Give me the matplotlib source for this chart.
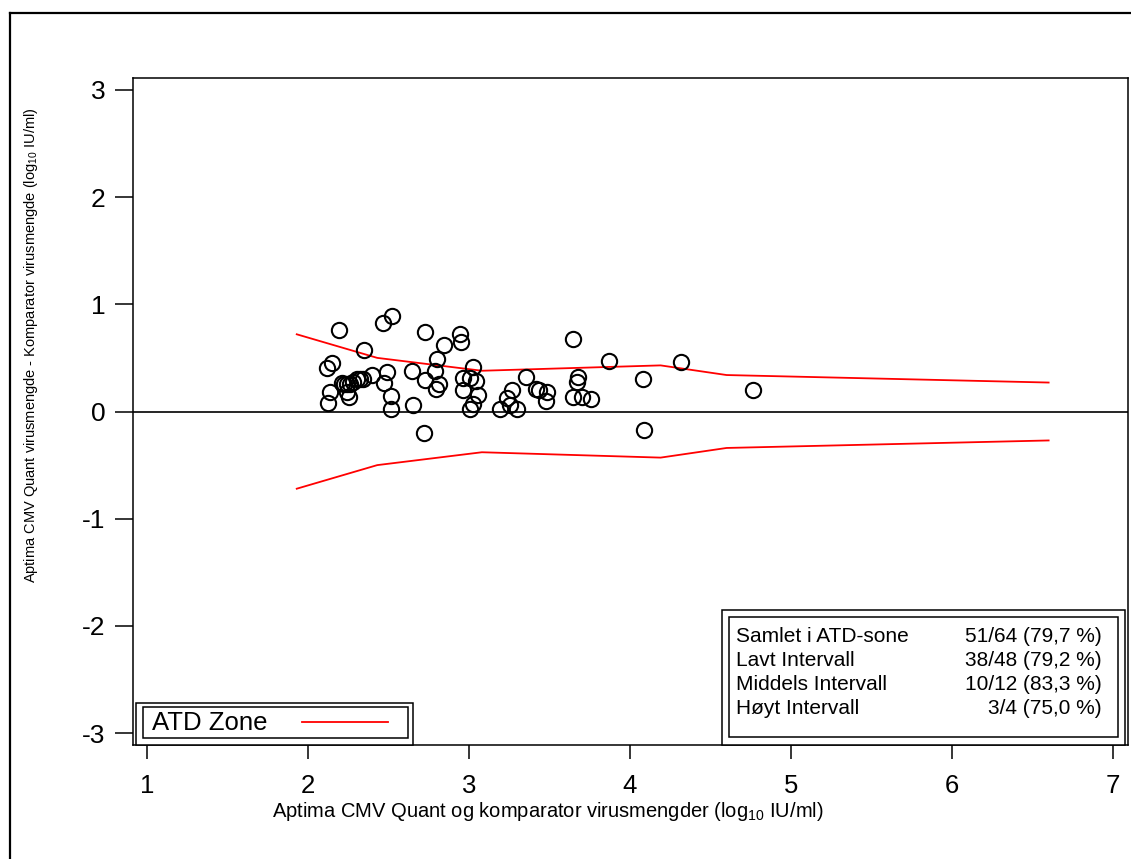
import matplotlib
matplotlib.use('Agg')
import matplotlib.pyplot as plt
from matplotlib.patches import Rectangle
from matplotlib.lines import Line2D
from matplotlib import font_manager

plt.rcParams['font.family'] = ['Liberation Sans', 'DejaVu Sans']
plt.rcParams['mathtext.fontset'] = 'custom'
plt.rcParams['mathtext.rm'] = 'Liberation Sans'
plt.rcParams['mathtext.it'] = 'Liberation Sans:italic'

# ---- data ----
mean_vl = [2.194, 2.464, 2.524, 2.348, 2.116, 2.151, 2.137, 2.126, 2.224, 2.240,
           2.261, 2.302, 2.323, 2.343, 2.240, 2.257, 2.210, 2.280, 2.399, 2.493,
           2.472, 2.514, 2.514, 2.648, 2.654, 2.729, 2.720, 2.728, 2.787, 2.801,
           2.847, 2.812, 2.794, 2.944, 2.952, 2.963, 2.961, 3.025, 3.008, 3.043,
           3.058, 3.023, 3.006, 3.194, 3.234, 3.270, 3.253, 3.300, 3.354, 3.419,
           3.435, 3.478, 3.486, 3.648, 3.675, 3.669, 3.648, 3.700, 3.756, 3.868,
           4.083, 4.087, 4.315, 4.766]
diff_vl = [0.758, 0.821, 0.886, 0.578, 0.408, 0.454, 0.184, 0.081, 0.261, 0.252,
           0.258, 0.299, 0.305, 0.299, 0.180, 0.137, 0.262, 0.272, 0.336, 0.370,
           0.268, 0.146, 0.026, 0.378, 0.056, 0.737, -0.196, 0.292, 0.378, 0.492,
           0.616, 0.252, 0.208, 0.721, 0.648, 0.317, 0.198, 0.413, 0.317, 0.289,
           0.152, 0.072, 0.023, 0.023, 0.128, 0.198, 0.061, 0.019, 0.320, 0.212,
           0.202, 0.100, 0.180, 0.672, 0.324, 0.277, 0.137, 0.137, 0.121, 0.469,
           0.305, -0.177, 0.464, 0.199]

zone_x = [1.93, 2.43, 3.08, 4.19, 4.60, 6.60]
zone_upper = [0.72, 0.50, 0.38, 0.43, 0.34, 0.27]
zone_lower = [-0.72, -0.50, -0.38, -0.43, -0.34, -0.27]

x_ticks = [1, 2, 3, 4, 5, 6, 7]
y_ticks = [-3, -2, -1, 0, 1, 2, 3]

stat_labels = ['Samlet i ATD-sone', 'Lavt Intervall', 'Middels Intervall', 'Høyt Intervall']
stat_values = ['51/64 (79,7 %)', '38/48 (79,2 %)', '10/12 (83,3 %)', '3/4 (75,0 %)']

legend_label = 'ATD Zone'
x_label = r'Aptima CMV Quant og komparator virusmengder (log$_{10}$ IU/ml)'
y_label = r'Aptima CMV Quant virusmengde - Komparator virusmengde (log$_{10}$ IU/ml)'

# ---- figure ----
W, H = 1131, 859
fig = plt.figure(figsize=(W / 100, H / 100), dpi=100)
fig.patch.set_facecolor('white')


def fx(px):
    return px / W


def fy(py):
    return 1 - py / H


ax = fig.add_axes([fx(133), fy(745), (1128 - 133) / W, (745 - 78) / H])

ax.axhline(0, color='black', lw=1.2, zorder=1)
ax.plot(zone_x, zone_upper, color='#ff0000', lw=1.3, zorder=2)
ax.plot(zone_x, zone_lower, color='#ff0000', lw=1.3, zorder=2)
ax.plot(mean_vl, diff_vl, 'o', mfc='none', mec='black', ms=11, mew=1.5, zorder=3)

ax.set_xlim(0.913, 7.093)
ax.set_ylim(-3.11, 3.11)
ax.set_xticks(x_ticks)
ax.set_yticks(y_ticks)
ax.set_xticklabels([str(t) for t in x_ticks])
ax.set_yticklabels([str(t) for t in y_ticks])
ax.tick_params(axis='x', length=10, width=1.1, pad=11, labelsize=18.5)
ax.tick_params(axis='y', length=13, width=1.1, pad=7, labelsize=19)
for s in ax.spines.values():
    s.set_linewidth(1.1)

# axis labels
fig.text(fx(548), fy(817), x_label, ha='center', va='baseline', fontsize=14.5)

names = {f.name for f in font_manager.fontManager.ttflist}
if 'Liberation Sans Narrow' in names:
    yl_family, yl_size = ['Liberation Sans Narrow', 'DejaVu Sans'], 12.5
else:
    yl_family, yl_size = ['Liberation Sans', 'DejaVu Sans'], 10.5
fig.text(fx(31), fy(345), y_label, ha='center', va='center', rotation=90,
         fontsize=yl_size, family=yl_family)

# outer figure border
fig.add_artist(Line2D([fx(10), fx(10)], [fy(13), fy(H + 5)], color='black', lw=1.6,
                      transform=fig.transFigure))
fig.add_artist(Line2D([fx(10), fx(W + 5)], [fy(13), fy(13)], color='black', lw=1.6,
                      transform=fig.transFigure))


def box(x0, y0, x1, y1, lw=1.1):
    r = Rectangle((fx(x0), fy(y1)), (x1 - x0) / W, (y1 - y0) / H,
                  transform=fig.transFigure, facecolor='white', edgecolor='black',
                  lw=lw, zorder=5)
    fig.add_artist(r)


# legend (double frame)
box(136, 703, 413, 745)
box(143, 707, 408, 738)
fig.text(fx(152), fy(723), legend_label, ha='left', va='center', fontsize=18.5, zorder=6)
fig.add_artist(Line2D([fx(302), fx(388)], [fy(722), fy(722)], color='#ff0000', lw=1.3,
                      transform=fig.transFigure, zorder=6))

# stats box (double frame)
box(722, 610, 1125, 745)
box(729, 617, 1118, 737)
row_y = [636, 660, 684, 708]
for lab, val, yy in zip(stat_labels, stat_values, row_y):
    fig.text(fx(736), fy(yy), lab, ha='left', va='center', fontsize=15, zorder=6)
    fig.text(fx(1102), fy(yy), val, ha='right', va='center', fontsize=15, zorder=6)

fig.savefig('out.png', dpi=100)
